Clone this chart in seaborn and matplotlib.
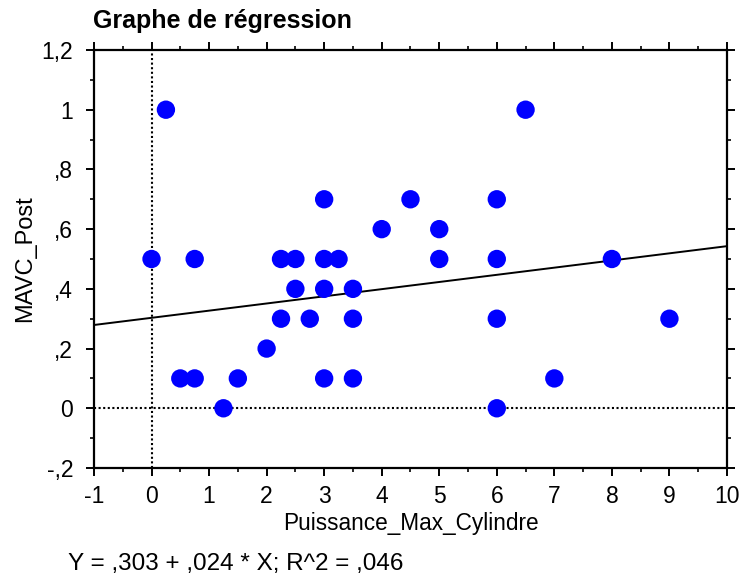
import matplotlib
matplotlib.use("Agg")
import matplotlib.pyplot as plt
from matplotlib.ticker import MultipleLocator, FixedLocator, FixedFormatter
import seaborn as sns
import pandas as pd
import numpy as np

# Data
puissance = [0.25, 0, 0.5, 0.75, 0.75, 1.25, 1.5, 2, 2.25, 2.5, 2.25, 2.5, 2.75,
             3, 3, 3.25, 3, 3, 3.5, 3.5, 3.5, 4, 4.5, 5, 5, 6, 6, 6, 6, 6.5, 7, 8, 9]
mavc = [1.0, 0.5, 0.1, 0.1, 0.5, 0.0, 0.1, 0.2, 0.5, 0.5, 0.3, 0.4, 0.3,
        0.7, 0.5, 0.5, 0.4, 0.1, 0.4, 0.3, 0.1, 0.6, 0.7, 0.6, 0.5, 0.7, 0.5, 0.3, 0.0, 1.0, 0.1, 0.5, 0.3]
intercept = 0.303
slope = 0.024
r2 = 0.046

x_ticks = [-1, 0, 1, 2, 3, 4, 5, 6, 7, 8, 9, 10]
x_tick_labels = ["-1", "0", "1", "2", "3", "4", "5", "6", "7", "8", "9", "10"]
y_ticks = [-0.2, 0, 0.2, 0.4, 0.6, 0.8, 1.0, 1.2]
y_tick_labels = ["-,2", "0", ",2", ",4", ",6", ",8", "1", "1,2"]

sns.set_theme(style="white")
plt.rcParams["font.family"] = ["Liberation Sans", "DejaVu Sans"]
plt.rcParams["axes.unicode_minus"] = False
plt.rcParams["text.color"] = "black"
plt.rcParams["axes.labelcolor"] = "black"

df = pd.DataFrame({"Puissance_Max_Cylindre": puissance, "MAVC_Post": mavc})

fig = plt.figure(figsize=(7.4, 5.76), dpi=100)
ax = fig.add_axes([0.1270, 0.1875, 0.8554, 0.7257])

ax.set_xlim(-1, 10)
ax.set_ylim(-0.2, 1.2)

# reference lines
ax.axvline(0, color="black", linestyle=(0, (1, 1.2)), linewidth=1.5, zorder=1)
ax.axhline(0, color="black", linestyle=(0, (1, 1.2)), linewidth=1.5, zorder=1)

# regression line
line_df = pd.DataFrame({"x": [-1.0, 10.0]})
line_df["y"] = intercept + slope * line_df["x"]
sns.lineplot(data=line_df, x="x", y="y", ax=ax, color="black", linewidth=1.4, zorder=2)

sns.scatterplot(data=df, x="Puissance_Max_Cylindre", y="MAVC_Post", ax=ax,
                color="#0000FF", s=175, edgecolor="none", zorder=3)

ax.xaxis.set_major_locator(FixedLocator(x_ticks))
ax.xaxis.set_major_formatter(FixedFormatter(x_tick_labels))
ax.xaxis.set_minor_locator(MultipleLocator(0.5))
ax.yaxis.set_major_locator(FixedLocator(y_ticks))
ax.yaxis.set_major_formatter(FixedFormatter(y_tick_labels))
ax.yaxis.set_minor_locator(MultipleLocator(0.1))

ax.tick_params(which="major", direction="out", length=6, width=1.4, labelsize=16.5,
               top=True, right=True, bottom=True, left=True, colors="black")
ax.tick_params(which="minor", direction="out", length=3, width=1.4,
               top=True, right=True, bottom=True, left=True)
ax.tick_params(axis="x", which="major", labeltop=False, pad=6)
ax.tick_params(axis="y", which="major", labelright=False, pad=9)

for sp in ax.spines.values():
    sp.set_visible(True)
    sp.set_color("black")
    sp.set_linewidth(1.6)

ax.set_xlabel("Puissance_Max_Cylindre", fontsize=16.3, labelpad=3)
ax.set_ylabel("MAVC_Post", fontsize=17, labelpad=4)

fig.text(0.1257, 0.963, "Graphe de régression", fontsize=18, fontweight="bold",
         ha="left", va="center")
fig.text(0.092, 0.020, f"Y = ,{int(round(intercept*1000)):03d} + ,{int(round(slope*1000)):03d} * X; R^2 = ,{int(round(r2*1000)):03d}",
         fontsize=17.5, ha="left", va="center")

fig.savefig("out.png", dpi=100)
